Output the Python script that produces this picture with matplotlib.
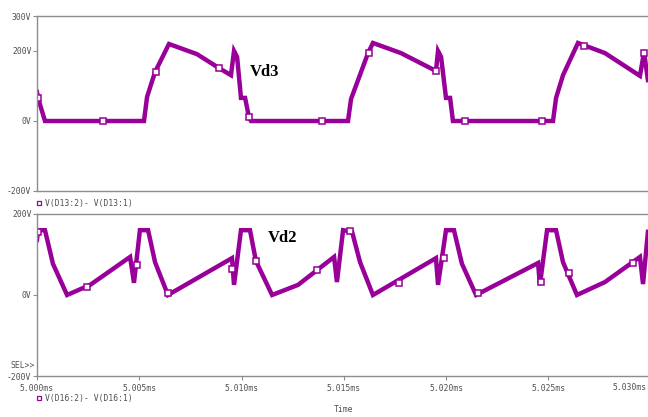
import matplotlib
matplotlib.use("Agg")
import matplotlib.pyplot as plt
import numpy as np
from matplotlib.lines import Line2D

# time offsets in microseconds after 5.000 ms, voltages in V
vd3_t = [0.00, 0.05, 0.39, 5.23, 5.38, 5.77, 6.45, 7.82, 8.90, 9.48, 9.63, 9.78, 9.97, 10.17,
         10.36, 10.46, 15.20, 15.35, 16.18, 16.42, 17.79, 19.50, 19.60, 19.75, 19.99, 20.19,
         20.33, 25.22, 25.37, 25.71, 26.44, 27.76, 29.47, 29.67, 29.86]
vd3_v = [83, 66, 0, 0, 69, 140, 220, 191, 151, 131, 200, 183, 66, 66,
         11, 0, 0, 63, 194, 223, 194, 143, 200, 183, 66, 66,
         0, 0, 66, 131, 223, 194, 129, 197, 117]
vd3_mark_t = [0.05, 3.23, 5.82, 8.90, 10.36, 13.93, 16.23, 19.50, 20.92, 24.68, 26.74, 29.67]
vd3_mark_v = [66, 0, 140, 151, 11, 0, 194, 143, 0, 0, 214, 194]

vd2_t = [0.00, 0.05, 0.39, 0.78, 1.47, 2.60, 4.55, 4.74, 5.03, 5.43, 5.77, 6.40,
         9.53, 9.63, 9.97, 10.41, 10.70, 11.49, 12.76, 14.52, 14.66, 14.96, 15.40, 15.79, 16.42,
         19.50, 19.60, 19.99, 20.38, 20.77, 21.46, 24.49, 24.58, 24.93, 25.37, 25.71, 26.39,
         27.76, 29.47, 29.62, 29.86]
vd2_v = [136, 160, 160, 77, 0, 25, 94, 30, 160, 160, 81, 0,
         91, 25, 160, 160, 84, 0, 25, 94, 32, 160, 156, 81, 0,
         91, 25, 160, 160, 77, 0, 79, 25, 160, 160, 81, 0,
         32, 94, 27, 156]
vd2_mark_t = [0.05, 2.44, 4.89, 6.40, 9.53, 10.70, 13.69, 15.30, 17.69, 19.89, 21.55, 24.63, 25.99, 29.13]
vd2_mark_v = [156, 20, 74, 5, 64, 84, 62, 158, 30, 91, 5, 32, 54, 79]

xticks = [5.000, 5.005, 5.010, 5.015, 5.020, 5.025]
xticklabels = ["5.000ms", "5.005ms", "5.010ms", "5.015ms", "5.020ms", "5.025ms"]

purple = "#990099"
gray = "#8c8c8c"
tcol = "#505050"
mono = "DejaVu Sans Mono"
fsz = 5.8

W, H = 648, 417
fig = plt.figure(figsize=(W / 100, H / 100), dpi=100)


def ms(t_us):
    return 5.0 + np.array(t_us) / 1000.0


def axbox(top, bottom):
    return [37 / W, 1 - bottom / H, (W - 37) / W, (bottom - top) / H]


def style(ax):
    for s in ["top", "bottom", "left"]:
        ax.spines[s].set_color(gray)
        ax.spines[s].set_linewidth(1.0)
    ax.spines["right"].set_visible(False)
    ax.tick_params(axis="y", direction="out", length=3, color=gray, labelsize=fsz,
                   labelcolor=tcol, pad=1)
    for lab in ax.get_yticklabels():
        lab.set_family(mono)
    ax.set_xlim(5.0, 5.0 + (W - 37) / 20460)


ax1 = fig.add_axes(axbox(16, 191))
ax1.plot(ms(vd3_t), vd3_v, color=purple, lw=3.2, solid_joinstyle="miter")
ax1.plot(ms(vd3_mark_t), vd3_mark_v, ls="none", marker="s", ms=4, mfc="white", mec=purple, mew=1.1)
ax1.set_ylim(-200, 300)
ax1.set_yticks([-200, 0, 200, 300])
ax1.set_yticklabels(["-200V", "0V", "200V", "300V"])
ax1.set_xticks([])
style(ax1)

ax2 = fig.add_axes(axbox(214, 376))
ax2.plot(ms(vd2_t), vd2_v, color=purple, lw=3.2, solid_joinstyle="miter")
ax2.plot(ms(vd2_mark_t), vd2_mark_v, ls="none", marker="s", ms=4, mfc="white", mec=purple, mew=1.1)
ax2.set_ylim(-200, 200)
ax2.set_yticks([-200, 0, 200])
ax2.set_yticklabels(["-200V", "0V", "200V"])
ax2.set_xticks(xticks)
ax2.set_xticklabels(xticklabels)
ax2.tick_params(axis="x", direction="out", length=3, color=gray, labelsize=fsz,
                labelcolor=tcol, pad=3)
for lab in ax2.get_xticklabels():
    lab.set_family(mono)
style(ax2)


# labels in figure pixels
def ftext(x, y, s, **kw):
    fig.text(x / W, 1 - y / H, s, **kw)


ftext(647, 387, "5.030ms", ha="right", va="center", fontsize=fsz, family=mono, color=tcol)
ftext(344, 410, "Time", ha="center", va="center", fontsize=fsz, family=mono, color=tcol)
ftext(35, 365, "SEL>>", ha="right", va="center", fontsize=fsz, family=mono, color=tcol)
ftext(45, 203, "V(D13:2)- V(D13:1)", ha="left", va="center", fontsize=fsz, family=mono, color=tcol)
ftext(45, 398, "V(D16:2)- V(D16:1)", ha="left", va="center", fontsize=fsz, family=mono, color=tcol)
for yy in [203, 398]:
    fig.add_artist(Line2D([39 / W], [1 - yy / H], transform=fig.transFigure, marker="s", ms=3,
                          mfc="white", mec=purple, mew=0.9, ls="none"))

ftext(265, 72, "Vd3", ha="center", va="center", fontsize=12, family="Liberation Serif",
      weight="bold", color="black")
ftext(283, 238, "Vd2", ha="center", va="center", fontsize=12, family="Liberation Serif",
      weight="bold", color="black")

fig.savefig("out.png", dpi=100)
